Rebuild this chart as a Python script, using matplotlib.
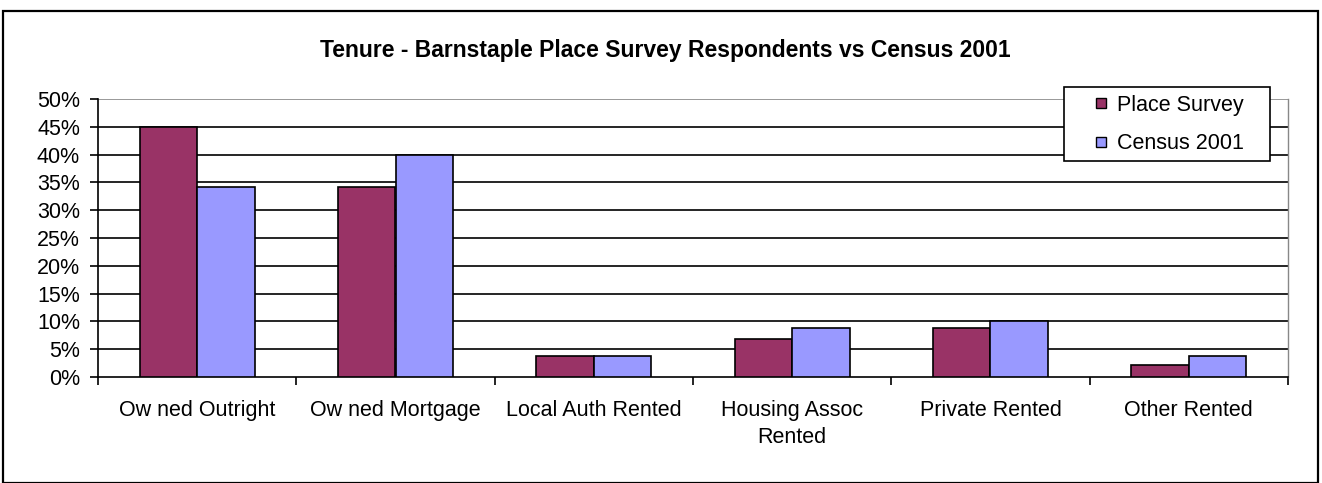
import matplotlib
matplotlib.use("Agg")
import matplotlib.pyplot as plt
import numpy as np
from matplotlib.patches import Rectangle
from matplotlib.lines import Line2D
from matplotlib.ticker import FuncFormatter

categories = ["Ow ned Outright", "Ow ned Mortgage", "Local Auth Rented",
              "Housing Assoc\nRented", "Private Rented", "Other Rented"]
place_survey = [45.0, 34.1, 3.8, 6.8, 8.9, 2.1]
census_2001 = [34.2, 40.0, 3.8, 8.9, 10.0, 3.8]
series_names = ["Place Survey", "Census 2001"]
colors = ["#993366", "#9999FF"]
title = "Tenure - Barnstaple Place Survey Respondents vs Census 2001"

plt.rcParams['font.family'] = ['Liberation Sans', 'DejaVu Sans']
FS = 15.5
W, H = 1322, 483

fig = plt.figure(figsize=(W / 100, H / 100), dpi=100)
fig.patches.append(Rectangle((3/W, 0), 1315/W, 1 - 11/H, transform=fig.transFigure,
                             fill=False, edgecolor='black', linewidth=1.6))

ax = fig.add_axes([98/W, 1 - 377/H, 1190/W, 278/H])
x = np.arange(len(categories))
w = 0.29
ax.bar(x - w/2, place_survey, w, color=colors[0], edgecolor='black', linewidth=1.2,
       zorder=3)
ax.bar(x + w/2, census_2001, w, color=colors[1], edgecolor='black', linewidth=1.2,
       zorder=3)

ax.set_xlim(-0.5, len(categories) - 0.5)
ax.set_ylim(0, 50)
ax.set_yticks(np.arange(0, 51, 5))
ax.yaxis.set_major_formatter(FuncFormatter(lambda v, p: f"{int(v)}%"))
ax.set_xticks(x)
ax.set_xticklabels(categories, fontsize=FS, linespacing=1.38)
ax.tick_params(axis='x', length=0, pad=16.5)
ax.set_xticks(np.arange(-0.5, len(categories), 1), minor=True)
ax.tick_params(axis='x', which='minor', length=6, width=1.2, direction='out')
ax.tick_params(axis='y', length=6, width=1.2, direction='out', labelsize=FS, pad=7)

for v in np.arange(5, 50, 5):
    ax.axhline(v, color='black', linewidth=1.2, zorder=1)
ax.axhline(50, color='#888888', linewidth=1.2, zorder=1)

ax.spines['top'].set_visible(False)
ax.spines['right'].set_color('#888888')
ax.spines['right'].set_linewidth(1.0)
ax.spines['left'].set_linewidth(1.2)
ax.spines['bottom'].set_linewidth(1.2)

fig.text(665/W, 1 - 51/H, title, ha='center', va='center', fontsize=16.5,
         fontweight='bold')

# legend frame
fig.patches.append(Rectangle((1064/W, 1 - 161/H), 206/W, 74/H, transform=fig.transFigure,
                             facecolor='white', edgecolor='black', linewidth=1.2,
                             zorder=4))
handles = [Line2D([], [], marker='s', linestyle='none', markersize=7,
                  markerfacecolor=c, markeredgecolor='black', markeredgewidth=1.0)
           for c in colors]
leg = fig.legend(handles, series_names, loc='upper left',
                 bbox_to_anchor=(1071.5/W, 1 - 94.5/H),
                 bbox_transform=fig.transFigure, fontsize=FS, frameon=False,
                 handlelength=2.7, handletextpad=-0.58, borderpad=0,
                 labelspacing=0.83, borderaxespad=0)
leg.set_zorder(6)

fig.savefig("out.png", dpi=100)
